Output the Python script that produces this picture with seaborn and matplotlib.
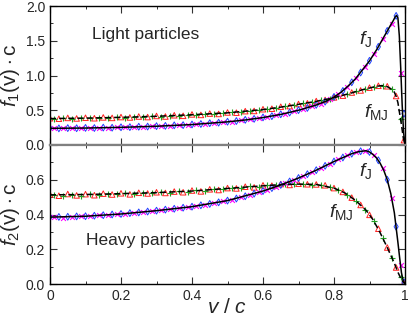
import numpy as np
import matplotlib
matplotlib.use('Agg')
import matplotlib.pyplot as plt
import seaborn as sns

# curve samples (v/c and f*c)
v_j1 = [0, 0.1, 0.2, 0.3, 0.4, 0.5, 0.55, 0.6, 0.65, 0.7, 0.75, 0.78, 0.8, 0.82, 0.84, 0.86, 0.88, 0.9,
        0.92, 0.94, 0.95, 0.96, 0.967, 0.972, 0.976, 0.98, 0.984, 0.988, 0.992, 0.996, 1.0]
f_j1 = [0.240, 0.244, 0.254, 0.270, 0.294, 0.333, 0.360, 0.395, 0.440, 0.500, 0.575, 0.635, 0.690, 0.760,
        0.850, 0.950, 1.080, 1.210, 1.370, 1.550, 1.640, 1.730, 1.790, 1.840, 1.865, 1.830, 1.570, 1.100,
        0.580, 0.180, 0.0]
v_mj1 = [0, 0.1, 0.2, 0.3, 0.4, 0.5, 0.6, 0.65, 0.7, 0.75, 0.8, 0.85, 0.88, 0.9, 0.92, 0.935, 0.95, 0.96,
         0.97, 0.975, 0.98, 0.985, 0.99, 0.995, 1.0]
f_mj1 = [0.380, 0.387, 0.398, 0.413, 0.435, 0.463, 0.510, 0.545, 0.585, 0.628, 0.680, 0.750, 0.795, 0.820,
         0.845, 0.855, 0.840, 0.810, 0.760, 0.700, 0.610, 0.450, 0.290, 0.110, 0.0]

v_j2 = [0, 0.1, 0.2, 0.3, 0.4, 0.5, 0.6, 0.65, 0.7, 0.75, 0.8, 0.85, 0.87, 0.89, 0.9, 0.91, 0.92, 0.93,
        0.94, 0.95, 0.96, 0.97, 0.98, 0.985, 0.99, 0.995, 1.0]
f_j2 = [0.385, 0.390, 0.403, 0.422, 0.445, 0.480, 0.535, 0.570, 0.610, 0.655, 0.705, 0.750, 0.762, 0.767,
        0.760, 0.745, 0.725, 0.695, 0.655, 0.600, 0.520, 0.410, 0.240, 0.150, 0.065, 0.018, 0.0]
v_mj2 = [0, 0.1, 0.2, 0.3, 0.4, 0.5, 0.6, 0.65, 0.7, 0.75, 0.8, 0.83, 0.86, 0.89, 0.91, 0.93, 0.95, 0.97,
         0.98, 0.99, 1.0]
f_mj2 = [0.513, 0.515, 0.520, 0.526, 0.535, 0.550, 0.565, 0.572, 0.575, 0.573, 0.552, 0.525, 0.482, 0.425,
         0.370, 0.295, 0.210, 0.120, 0.068, 0.025, 0.0]

# simulation points (two data sets per curve)
va = [0.0, 0.025, 0.05, 0.075, 0.1, 0.125, 0.15, 0.175, 0.2, 0.225, 0.25, 0.275, 0.3, 0.325, 0.35, 0.375,
      0.4, 0.425, 0.45, 0.475, 0.5, 0.525, 0.55, 0.575, 0.6, 0.625, 0.65, 0.675, 0.7, 0.725, 0.75, 0.775,
      0.8, 0.825, 0.85, 0.875, 0.9, 0.925, 0.95, 0.975, 0.997]
vb = [0.0125, 0.0375, 0.0625, 0.0875, 0.1125, 0.1375, 0.1625, 0.1875, 0.2125, 0.2375, 0.2625, 0.2875,
      0.3125, 0.3375, 0.3625, 0.3875, 0.4125, 0.4375, 0.4625, 0.4875, 0.5125, 0.5375, 0.5625, 0.5875,
      0.6125, 0.6375, 0.6625, 0.6875, 0.7125, 0.7375, 0.7625, 0.7875, 0.8125, 0.8375, 0.8625, 0.8875,
      0.9125, 0.9375, 0.9625, 0.9875]

blue1 = [0.242, 0.239, 0.243, 0.241, 0.246, 0.244, 0.250, 0.249, 0.255, 0.257, 0.263, 0.265, 0.271, 0.275,
         0.283, 0.286, 0.295, 0.302, 0.314, 0.321, 0.335, 0.345, 0.362, 0.376, 0.397, 0.415, 0.442, 0.467,
         0.502, 0.534, 0.578, 0.624, 0.692, 0.778, 0.902, 1.043, 1.212, 1.413, 1.642, 1.858, 0.450]
mag1 = [0.238, 0.242, 0.240, 0.245, 0.243, 0.248, 0.248, 0.254, 0.255, 0.262, 0.262, 0.270, 0.272, 0.280,
        0.283, 0.292, 0.297, 0.309, 0.316, 0.329, 0.338, 0.355, 0.367, 0.388, 0.404, 0.430, 0.453, 0.486,
        0.516, 0.557, 0.597, 0.657, 0.729, 0.837, 0.964, 1.127, 1.309, 1.532, 1.748, 1.040]
red1 = [0.385, 0.378, 0.390, 0.382, 0.392, 0.385, 0.397, 0.390, 0.402, 0.396, 0.410, 0.402, 0.418, 0.410,
        0.428, 0.420, 0.440, 0.433, 0.452, 0.447, 0.468, 0.465, 0.487, 0.490, 0.515, 0.522, 0.550, 0.560,
        0.590, 0.600, 0.632, 0.648, 0.685, 0.710, 0.755, 0.785, 0.825, 0.852, 0.845, 0.705, 0.070]
green1 = [0.372, 0.383, 0.376, 0.388, 0.382, 0.394, 0.386, 0.399, 0.395, 0.406, 0.400, 0.414, 0.409, 0.424,
          0.418, 0.436, 0.431, 0.449, 0.445, 0.463, 0.468, 0.478, 0.490, 0.500, 0.520, 0.530, 0.556, 0.570,
          0.598, 0.612, 0.645, 0.660, 0.702, 0.728, 0.772, 0.800, 0.838, 0.846, 0.805, 0.370]

blue2 = [0.385, 0.386, 0.387, 0.389, 0.390, 0.393, 0.396, 0.400, 0.403, 0.408, 0.412, 0.417, 0.422, 0.428,
         0.433, 0.439, 0.445, 0.453, 0.461, 0.470, 0.480, 0.492, 0.505, 0.520, 0.535, 0.552, 0.570, 0.590,
         0.610, 0.632, 0.655, 0.680, 0.705, 0.728, 0.750, 0.764, 0.760, 0.712, 0.600, 0.330, 0.010]
mag2 = [0.385, 0.380, 0.388, 0.390, 0.391, 0.395, 0.398, 0.401, 0.405, 0.410, 0.414, 0.420, 0.425, 0.430,
        0.436, 0.442, 0.449, 0.457, 0.465, 0.475, 0.486, 0.498, 0.512, 0.527, 0.543, 0.561, 0.580, 0.600,
        0.621, 0.643, 0.667, 0.693, 0.717, 0.740, 0.758, 0.768, 0.742, 0.665, 0.495, 0.110]
red2 = [0.515, 0.508, 0.518, 0.510, 0.517, 0.511, 0.520, 0.515, 0.522, 0.516, 0.525, 0.521, 0.528, 0.524,
        0.532, 0.528, 0.538, 0.533, 0.545, 0.541, 0.552, 0.550, 0.560, 0.556, 0.568, 0.566, 0.575, 0.570,
        0.577, 0.574, 0.573, 0.568, 0.552, 0.530, 0.497, 0.455, 0.398, 0.318, 0.210, 0.095, 0.008]
green2 = [0.512, 0.505, 0.514, 0.509, 0.518, 0.513, 0.519, 0.516, 0.523, 0.519, 0.526, 0.522, 0.530, 0.526,
          0.534, 0.531, 0.540, 0.537, 0.548, 0.544, 0.555, 0.552, 0.562, 0.561, 0.570, 0.568, 0.576, 0.573,
          0.578, 0.572, 0.570, 0.560, 0.543, 0.514, 0.478, 0.428, 0.360, 0.265, 0.150, 0.040]

sns.set_theme(style='ticks')
plt.rcParams['font.family'] = ['Liberation Sans', 'DejaVu Sans']
plt.rcParams['mathtext.fontset'] = 'custom'
plt.rcParams['mathtext.rm'] = 'Liberation Sans'
plt.rcParams['mathtext.it'] = 'Liberation Sans:italic'

fig = plt.figure(figsize=(4.09, 3.17), dpi=100)
ax1 = fig.add_axes([50 / 409, 1 - 145 / 317, 355 / 409, 139 / 317])
ax2 = fig.add_axes([50 / 409, 1 - 284 / 317, 355 / 409, 139 / 317])


def draw_panel(ax, vj, fj, vmj, fmj, blue, mag, red, green):
    sns.scatterplot(x=va, y=red, ax=ax, marker='^', s=16, facecolor='none', edgecolor='#ff2020',
                    linewidth=0.7, zorder=2)
    sns.scatterplot(x=vb, y=green, ax=ax, marker='+', s=18, color='#22a022', linewidth=0.8, zorder=2)
    sns.scatterplot(x=va, y=blue, ax=ax, marker='d', s=12, facecolor='none', edgecolor='#2040ff',
                    linewidth=0.7, zorder=2)
    sns.scatterplot(x=vb, y=mag, ax=ax, marker='x', s=12, color='#ff00ff', linewidth=0.8, zorder=2)
    sns.lineplot(x=vmj, y=fmj, ax=ax, color='black', linewidth=1.1, linestyle=(0, (4, 2)),
                 sort=False, estimator=None, zorder=3)
    sns.lineplot(x=vj, y=fj, ax=ax, color='black', linewidth=1.1, sort=False, estimator=None, zorder=3)
    ax.set_xlim(0, 1)
    ax.tick_params(which='both', direction='in', top=True, right=True, labelsize=10, color='#333333')
    ax.tick_params(which='major', length=5, width=0.8)
    ax.tick_params(which='minor', length=2.5, width=0.7)
    ax.set_xticks([0, 0.2, 0.4, 0.6, 0.8, 1.0])
    ax.set_xticks([0.1, 0.3, 0.5, 0.7, 0.9], minor=True)
    for s in ax.spines.values():
        s.set_color('black')
        s.set_linewidth(1.0)


draw_panel(ax1, v_j1, f_j1, v_mj1, f_mj1, blue1, mag1, red1, green1)
draw_panel(ax2, v_j2, f_j2, v_mj2, f_mj2, blue2, mag2, red2, green2)

ax1.set_ylim(0, 2.0)
ax1.set_yticks([0, 0.5, 1.0, 1.5, 2.0])
ax1.set_yticklabels(['0.0', '0.5', '1.0', '1.5', '2.0'])
ax1.set_yticks([0.25, 0.75, 1.25, 1.75], minor=True)
ax1.set_xticklabels([])
ax1.spines['bottom'].set_color('#808080')
ax1.spines['bottom'].set_linewidth(1.6)

ax2.set_ylim(0, 0.8)
ax2.set_yticks([0, 0.2, 0.4, 0.6, 0.8])
ax2.set_yticklabels(['0.0', '0.2', '0.4', '0.6', ''])
ax2.set_yticks([0.1, 0.3, 0.5, 0.7], minor=True)
ax2.set_xticklabels(['0', '0.2', '0.4', '0.6', '0.8', '1'])
ax2.spines['top'].set_color('#808080')
ax2.spines['top'].set_linewidth(1.6)

ax1.set_ylabel(r'$f_{\mathit{1}}\mathrm{(v)\cdot c}$', fontsize=15)
ax2.set_ylabel(r'$f_{\mathit{2}}\mathrm{(v)\cdot c}$', fontsize=15)
ax1.yaxis.set_label_coords(-0.08, 0.5)
ax2.yaxis.set_label_coords(-0.08, 0.5)
ax2.set_xlabel(r'$v$ / $c$', fontsize=15)
ax2.xaxis.set_label_coords(0.5, -0.1)

ax1.text(0.27, 1.59, 'Light particles', fontsize=12.5, ha='center', va='center')
ax2.text(0.27, 0.248, 'Heavy particles', fontsize=12.5, ha='center', va='center')
ax1.text(0.89, 1.52, r'$f_\mathrm{J}$', fontsize=14, ha='center', va='center')
ax1.text(0.92, 0.47, r'$f_\mathrm{MJ}$', fontsize=14, ha='center', va='center')
ax2.text(0.89, 0.65, r'$f_\mathrm{J}$', fontsize=14, ha='center', va='center')
ax2.text(0.82, 0.415, r'$f_\mathrm{MJ}$', fontsize=14, ha='center', va='center')

fig.savefig('out.png', dpi=100)
